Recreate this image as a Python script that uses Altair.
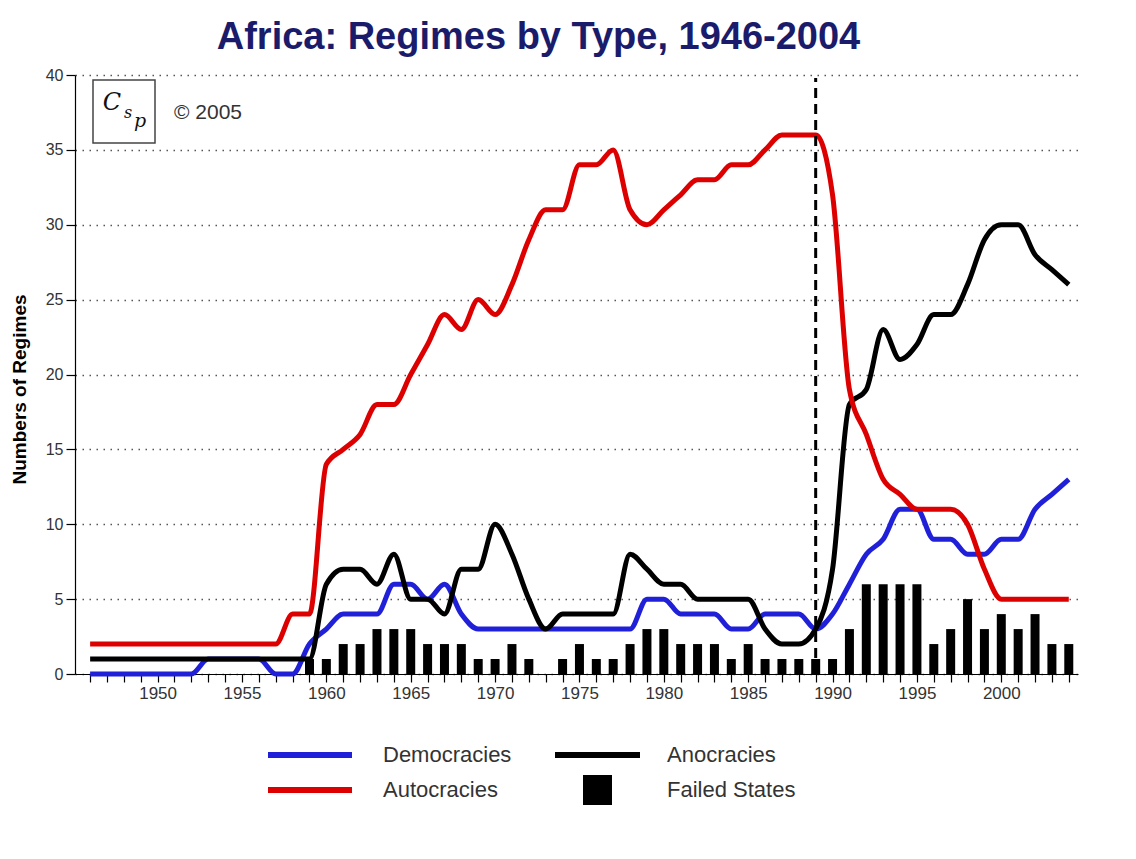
import altair as alt
import pandas as pd

years = list(range(1946, 2005))

democracies = [0, 0, 0, 0, 0, 0, 0, 1, 1, 1, 1, 0, 0,
               2, 3, 4, 4, 4, 6, 6, 5, 6, 4, 3,
               3, 3, 3, 3, 3, 3, 3, 3, 3, 5,
               5, 4, 4, 4, 3, 3, 4, 4, 4, 3,
               4, 6, 8, 9, 11, 11, 9, 9, 8, 8,
               9, 9, 11, 12, 13]

autocracies = [2, 2, 2, 2, 2, 2, 2, 2, 2, 2, 2, 2, 4, 4,
               14, 15, 16, 18, 18, 20, 22, 24, 23, 25,
               24, 26, 29, 31, 31, 34, 34, 35, 31, 30,
               31, 32, 33, 33, 34, 34, 35, 36, 36, 36,
               32, 19, 16, 13, 12, 11, 11, 11, 10, 7,
               5, 5, 5, 5, 5]

anocracies = [1, 1, 1, 1, 1, 1, 1, 1, 1, 1, 1, 1, 1, 1,
              6, 7, 7, 6, 8, 5, 5, 4, 7, 7,
              10, 8, 5, 3, 4, 4, 4, 4, 8, 7,
              6, 6, 5, 5, 5, 5, 3, 2, 2, 3,
              7, 18, 19, 23, 21, 22, 24, 24, 26, 29,
              30, 30, 28, 27, 26]

failed_states = [0, 0, 0, 0, 0, 0, 0, 0, 0, 0, 0, 0, 0, 1,
                 1, 2, 2, 3, 3, 3, 2, 2, 2, 1,
                 1, 2, 1, 0, 1, 2, 1, 1, 2, 3,
                 3, 2, 2, 2, 1, 2, 1, 1, 1, 1,
                 1, 3, 6, 6, 6, 6, 2, 3, 5, 3,
                 4, 3, 4, 2, 2]

y_ticks = [0, 5, 10, 15, 20, 25, 30, 35, 40]
transition_year = 1989

legend_labels = ["Democracies", "Autocracies", "Anocracies", "Failed States"]
title_text = "Africa: Regimes by Type, 1946-2004"
y_title = "Numbers of Regimes"
copyright_text = "\u00a9 2005"

BLUE = "#2020d8"
RED = "#dd0000"
FONT = "Liberation Sans"

df = pd.DataFrame({
    "year": years,
    "Democracies": democracies,
    "Autocracies": autocracies,
    "Anocracies": anocracies,
    "Failed": failed_states,
})

W, H = 1003, 599

xscale = alt.Scale(domain=[1945.4, 2004.25], nice=False, zero=False)
yscale = alt.Scale(domain=[0, 40], nice=False)

x_axis = alt.Axis(
    values=years, labelExpr="datum.value % 5 == 0 ? datum.label : ''",
    format="d", grid=False, tickSize=8, tickColor="#000", domainColor="#000",
    domainWidth=1.2, tickWidth=1.2, labelFontSize=17, labelColor="#333",
    labelPadding=3, title=None, labelFont=FONT, labelOverlap=False,
    labelFlush=False,
)
y_axis = alt.Axis(
    values=y_ticks, grid=True, gridDash=[1.5, 5.5], gridColor="#555",
    gridWidth=1.3, tickSize=9, tickColor="#000", domainColor="#000",
    domainWidth=1.2, tickWidth=1.2, labelFontSize=16, labelColor="#333",
    labelPadding=3, title=y_title, titleFontSize=19,
    titleFontWeight="bold", titleColor="#000",
    titleX=-56, titleY=314, titleAlign="center", titleBaseline="middle",
    titleAngle=270, labelFont=FONT, titleFont=FONT, labelOverlap=False,
)

X = alt.X("year:Q", scale=xscale, axis=x_axis)


def Y(field):
    return alt.Y(f"{field}:Q", scale=yscale, axis=y_axis)


base = alt.Chart(df)

bars = base.mark_bar(size=9, color="#000").encode(x=X, y=Y("Failed"))


def line(field, color):
    return base.mark_line(color=color, strokeWidth=5, interpolate="monotone").encode(
        x=X, y=Y(field))


dem_line = line("Democracies", BLUE)
ano_line = line("Anocracies", "#000")
aut_line = line("Autocracies", RED)

trans = alt.Chart(pd.DataFrame({"year": [transition_year], "lo": [0], "hi": [39.8]})).mark_rule(
    color="#000", strokeWidth=3, strokeDash=[10, 6]
).encode(x=X, y=Y("lo"), y2="hi:Q")

one = pd.DataFrame({"k": [0]})

logo_box = alt.Chart(one).mark_rect(fill="white", stroke="#444", strokeWidth=1.5).encode(
    x=alt.value(18), x2=alt.value(80), y=alt.value(5), y2=alt.value(68)
)
logo_c = alt.Chart(one).mark_text(text="C", font="DejaVu Serif", fontStyle="italic",
                                  fontSize=24, color="#111").encode(
    x=alt.value(37), y=alt.value(28))
logo_s = alt.Chart(one).mark_text(text="s", font="DejaVu Serif", fontStyle="italic",
                                  fontSize=16, color="#111").encode(
    x=alt.value(53), y=alt.value(38))
logo_p = alt.Chart(one).mark_text(text="p", font="DejaVu Serif", fontStyle="italic",
                                  fontSize=19, color="#111").encode(
    x=alt.value(65), y=alt.value(46))
copy_txt = alt.Chart(one).mark_text(text=copyright_text, font=FONT, fontSize=21,
                                    color="#333", align="left").encode(
    x=alt.value(99), y=alt.value(38))

# manual legend
LY1, LY2 = 680, 715


def leg_line(x1, x2, y, color):
    return alt.Chart(one).mark_rule(color=color, strokeWidth=6).encode(
        x=alt.value(x1), x2=alt.value(x2), y=alt.value(y))


def leg_text(x, y, label):
    return alt.Chart(one).mark_text(text=label, font=FONT, fontSize=22, color="#333",
                                    align="left", baseline="middle").encode(
        x=alt.value(x), y=alt.value(y))


leg = [
    leg_line(193, 277, LY1, BLUE),
    leg_line(193, 277, LY2, RED),
    leg_line(480, 565, LY1, "#000"),
    alt.Chart(one).mark_rect(color="#000").encode(
        x=alt.value(508), x2=alt.value(537), y=alt.value(700), y2=alt.value(730)),
    leg_text(308, LY1, legend_labels[0]),
    leg_text(308, LY2, legend_labels[1]),
    leg_text(592, LY1, legend_labels[2]),
    leg_text(592, LY2, legend_labels[3]),
]

chart = alt.layer(
    bars, dem_line, ano_line, aut_line, trans,
    logo_box, logo_c, logo_s, logo_p, copy_txt, *leg
).properties(
    width=W, height=H,
    title=alt.TitleParams(title_text, fontSize=38, font=FONT, fontWeight="bold",
                          color="#1b1b6b", anchor="middle", dx=-38, offset=10),
    autosize=alt.AutoSizeParams(type="none"),
    padding={"left": 67, "top": 67, "right": 50, "bottom": 170},
).configure(font=FONT).configure_view(stroke=None)

chart.save("out.html", embed_options={"renderer": "svg", "actions": False})
